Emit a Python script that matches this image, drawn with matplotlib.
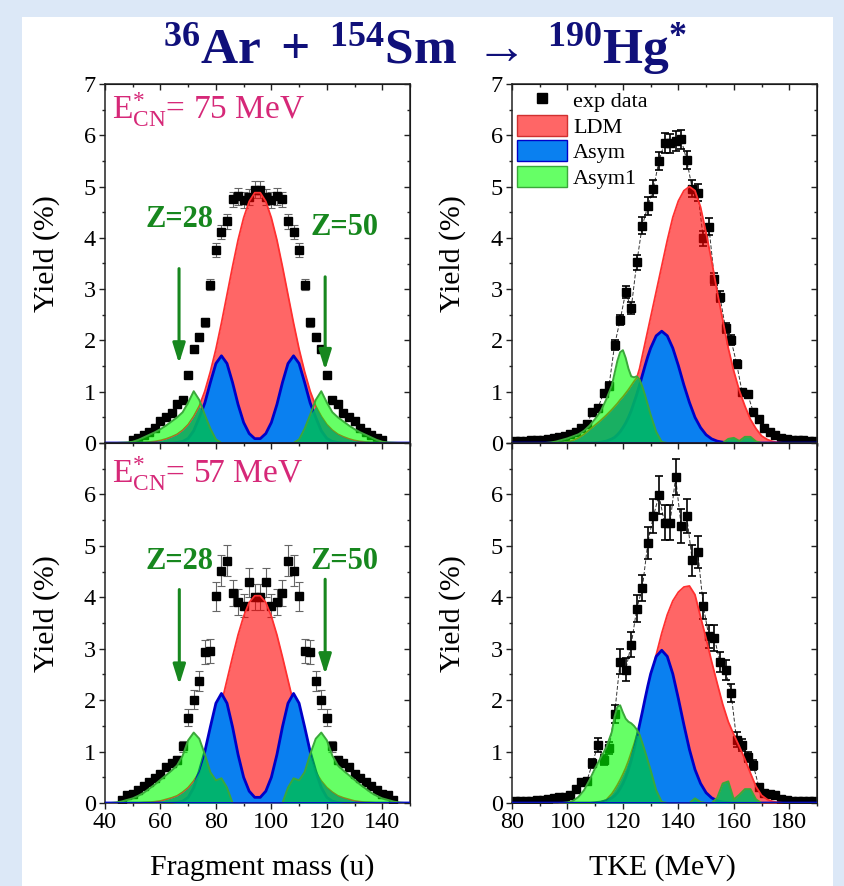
import numpy as np
import matplotlib
matplotlib.use('Agg')
import matplotlib.pyplot as plt
from matplotlib.patches import Patch, Rectangle
from matplotlib.lines import Line2D

plt.rcParams['font.family'] = ['Liberation Serif', 'DejaVu Serif']
plt.rcParams['mathtext.fontset'] = 'custom'
plt.rcParams['mathtext.rm'] = 'Liberation Serif'
plt.rcParams['mathtext.bf'] = 'Liberation Serif:bold'
plt.rcParams['mathtext.it'] = 'Liberation Serif:italic'

# ---- model curves, fragment mass (sample positions every 2 u) ----
mass = np.arange(40, 152, 2)

ldm_75 = [0, 0, 0, 0, 0, 0, 0, 0.01, 0.02, 0.03, 0.05, 0.08, 0.12, 0.17, 0.25, 0.36, 0.52, 0.72, 1.01, 1.39,
          1.83, 2.34, 2.89, 3.44, 3.96, 4.39, 4.71, 4.88,
          4.88, 4.71, 4.39, 3.96, 3.44, 2.89, 2.34, 1.83, 1.39, 1.01, 0.72, 0.52, 0.36, 0.25, 0.17, 0.12,
          0.08, 0.05, 0.03, 0.02, 0.01, 0, 0, 0, 0, 0, 0, 0]
asym_75 = [0, 0, 0, 0, 0, 0, 0, 0, 0, 0, 0, 0, 0, 0.01, 0.03, 0.09, 0.24, 0.5, 0.78, 1.18, 1.55, 1.7, 1.55,
           1.18, 0.75, 0.4, 0.185, 0.085,
           0.085, 0.185, 0.4, 0.75, 1.18, 1.55, 1.7, 1.55, 1.18, 0.78, 0.5, 0.24, 0.09, 0.03, 0.01,
           0, 0, 0, 0, 0, 0, 0, 0, 0, 0, 0, 0, 0]
asym1_75 = [0, 0, 0, 0.005, 0.01, 0.025, 0.06, 0.11, 0.16, 0.21, 0.27, 0.34, 0.42, 0.5, 0.6, 0.79, 1.01, 0.84,
            0.55, 0.28, 0.07, 0, 0, 0, 0, 0, 0, 0,
            0, 0, 0, 0, 0, 0, 0, 0.07, 0.28, 0.55, 0.84, 1.01, 0.79, 0.6, 0.5, 0.42, 0.34, 0.27, 0.21, 0.16,
            0.11, 0.06, 0.025, 0.01, 0.005, 0, 0, 0]

ldm_57 = [0, 0, 0, 0, 0, 0, 0, 0.01, 0.015, 0.025, 0.04, 0.07, 0.1, 0.14, 0.21, 0.3, 0.43, 0.6, 0.84, 1.15,
          1.51, 1.94, 2.39, 2.84, 3.27, 3.63, 3.9, 4.03,
          4.03, 3.9, 3.63, 3.27, 2.84, 2.39, 1.94, 1.51, 1.15, 0.84, 0.6, 0.43, 0.3, 0.21, 0.14, 0.1,
          0.07, 0.04, 0.025, 0.015, 0.01, 0, 0, 0, 0, 0, 0, 0]
asym_57 = [0, 0, 0, 0, 0, 0, 0, 0, 0, 0, 0, 0, 0, 0.01, 0.035, 0.11, 0.3, 0.62, 1.0, 1.48, 1.94, 2.13, 1.94,
           1.48, 0.94, 0.5, 0.23, 0.11,
           0.11, 0.23, 0.5, 0.94, 1.48, 1.94, 2.13, 1.94, 1.48, 1.0, 0.62, 0.3, 0.11, 0.035, 0.01,
           0, 0, 0, 0, 0, 0, 0, 0, 0, 0, 0, 0, 0]
asym1_57 = [0, 0, 0.01, 0.03, 0.06, 0.09, 0.14, 0.2, 0.28, 0.36, 0.45, 0.54, 0.63, 0.73, 0.92, 1.22, 1.37, 1.25,
            0.95, 0.6, 0.44, 0.48, 0.3, 0, 0, 0, 0, 0,
            0, 0, 0, 0, 0, 0.3, 0.48, 0.44, 0.6, 0.95, 1.25, 1.37, 1.22, 0.92, 0.73, 0.63, 0.54, 0.45, 0.36,
            0.28, 0.2, 0.14, 0.09, 0.06, 0.03, 0.01, 0, 0]

# ---- experimental mass yields ----
mass_exp_75 = np.arange(50, 142, 2)
yield_m75 = [0.06, 0.09, 0.15, 0.22, 0.3, 0.43, 0.5, 0.58, 0.77, 0.84, 1.32, 1.83, 2.07, 2.35, 3.09, 3.76,
             4.12, 4.32, 4.75, 4.81, 4.74, 4.8, 4.94,
             4.94, 4.8, 4.74, 4.81, 4.75, 4.32, 4.12, 3.76, 3.09, 2.35, 2.07, 1.83, 1.32, 0.84, 0.77, 0.58,
             0.5, 0.43, 0.3, 0.22, 0.15, 0.09, 0.06]
err_m75 = [0.02, 0.02, 0.03, 0.03, 0.03, 0.03, 0.04, 0.04, 0.04, 0.05, 0.06, 0.07, 0.08, 0.09, 0.11, 0.13,
           0.14, 0.15, 0.15, 0.16, 0.16, 0.16, 0.16,
           0.16, 0.16, 0.16, 0.16, 0.15, 0.15, 0.14, 0.13, 0.11, 0.09, 0.08, 0.07, 0.06, 0.05, 0.04, 0.04,
           0.04, 0.03, 0.03, 0.03, 0.03, 0.02, 0.02]

mass_exp_57 = np.arange(46, 146, 2)
yield_m57 = [0.06, 0.15, 0.18, 0.26, 0.33, 0.4, 0.48, 0.57, 0.7, 0.77, 0.84, 1.1, 1.66, 2.01, 2.37, 2.93,
             2.95, 4.02, 4.52, 4.71, 4.08, 3.91, 3.84, 4.29, 4.0,
             4.0, 4.29, 3.84, 3.91, 4.08, 4.71, 4.52, 4.02, 2.95, 2.93, 2.37, 2.01, 1.66, 1.1, 0.84, 0.77,
             0.7, 0.57, 0.48, 0.4, 0.33, 0.26, 0.18, 0.15, 0.06]
err_m57 = [0.03, 0.03, 0.04, 0.04, 0.05, 0.05, 0.05, 0.06, 0.07, 0.07, 0.08, 0.1, 0.16, 0.19, 0.2, 0.23,
           0.23, 0.28, 0.3, 0.3, 0.25, 0.25, 0.22, 0.28, 0.25,
           0.25, 0.28, 0.22, 0.25, 0.25, 0.3, 0.3, 0.28, 0.23, 0.23, 0.2, 0.19, 0.16, 0.1, 0.08, 0.07,
           0.07, 0.06, 0.05, 0.05, 0.05, 0.04, 0.04, 0.03, 0.03]

# ---- model curves, TKE (finer sampling 116-129 MeV) ----
tke = np.concatenate([np.arange(80, 116, 2), np.arange(116, 130), np.arange(130, 192, 2)])

ldm_t75 = [0, 0, 0, 0, 0, 0, 0, 0, 0, 0.01, 0.02, 0.05, 0.1, 0.17, 0.26, 0.35, 0.44, 0.54,
           0.65, 0.71, 0.77, 0.84, 0.9, 0.97, 1.04, 1.12, 1.2, 1.27, 1.45, 1.7, 1.95, 2.2,
           2.45, 2.95, 3.45, 3.95, 4.4, 4.72, 4.92, 5.0, 4.92, 4.6, 4.1, 3.55, 2.95, 2.4, 1.85, 1.4,
           1.02, 0.72, 0.46, 0.28, 0.14, 0.07, 0.03, 0.01, 0, 0, 0, 0, 0, 0, 0]
asym_t75 = [0, 0, 0, 0, 0, 0, 0, 0, 0, 0, 0, 0, 0, 0, 0, 0.006, 0.016, 0.037,
            0.08, 0.11, 0.16, 0.22, 0.3, 0.39, 0.5, 0.63, 0.79, 0.95, 1.13, 1.32, 1.51, 1.69,
            1.85, 2.09, 2.18, 2.09, 1.85, 1.51, 1.13, 0.79, 0.5, 0.3, 0.16, 0.08, 0.037, 0.016, 0.006,
            0, 0, 0, 0, 0, 0, 0, 0, 0, 0, 0, 0, 0, 0, 0, 0]
asym1_t75 = [0, 0, 0, 0, 0, 0, 0, 0.01, 0.03, 0.06, 0.09, 0.13, 0.17, 0.24, 0.34, 0.47, 0.62, 0.85,
             1.12, 1.36, 1.6, 1.77, 1.81, 1.66, 1.45, 1.3, 1.28, 1.3, 1.24, 1.1, 0.93, 0.74,
             0.55, 0.22, 0.02, 0, 0, 0, 0, 0, 0, 0, 0, 0, 0, 0, 0.08, 0.1, 0.04, 0.12, 0.12, 0.03,
             0, 0, 0, 0, 0, 0, 0, 0, 0, 0, 0]

ldm_t57 = [0, 0, 0, 0, 0, 0, 0, 0, 0, 0, 0, 0, 0, 0, 0, 0.005, 0.02, 0.06,
           0.18, 0.26, 0.35, 0.45, 0.56, 0.68, 0.82, 0.98, 1.14, 1.32, 1.5, 1.7, 1.92, 2.15,
           2.4, 2.88, 3.3, 3.66, 3.93, 4.1, 4.2, 4.22, 4.05, 3.62, 3.2, 2.75, 2.33, 1.92, 1.58, 1.33,
           1.1, 0.85, 0.58, 0.32, 0.15, 0.07, 0.03, 0.01, 0, 0, 0, 0, 0, 0, 0]
asym_t57 = [0, 0, 0, 0, 0, 0, 0, 0, 0, 0, 0, 0, 0, 0, 0, 0.007, 0.018, 0.045,
            0.1, 0.14, 0.2, 0.28, 0.38, 0.5, 0.65, 0.83, 1.04, 1.27, 1.52, 1.77, 2.03, 2.28,
            2.51, 2.85, 2.97, 2.85, 2.51, 2.03, 1.52, 1.04, 0.65, 0.38, 0.2, 0.1, 0.045, 0.018, 0.007,
            0, 0, 0, 0, 0, 0, 0, 0, 0, 0, 0, 0, 0, 0, 0, 0]
asym1_t57 = [0, 0, 0, 0, 0, 0, 0, 0, 0, 0, 0.01, 0.04, 0.12, 0.25, 0.45, 0.68, 0.88, 1.08,
             1.38, 1.68, 1.87, 1.9, 1.76, 1.64, 1.58, 1.55, 1.5, 1.43, 1.33, 1.17, 1.0, 0.82,
             0.64, 0.25, 0.02, 0, 0, 0, 0, 0, 0.09, 0.02, 0, 0, 0.1, 0.38, 0.42, 0.07, 0.16, 0.27, 0.27,
             0.07, 0, 0, 0, 0, 0, 0, 0, 0, 0, 0, 0]

# ---- experimental TKE yields ----
tke_exp = np.arange(81, 190, 2)
yield_t75 = [0.04, 0.04, 0.04, 0.05, 0.05, 0.06, 0.08, 0.09, 0.12, 0.14,
             0.17, 0.22, 0.3, 0.38, 0.6, 0.68, 0.97, 1.12, 1.91, 2.4,
             2.94, 2.63, 3.52, 4.24, 4.62, 4.96, 5.5, 5.85, 5.84, 5.89,
             5.92, 5.52, 4.96, 4.88, 3.99, 4.22, 3.2, 2.85, 2.24, 2.01,
             1.55, 0.99, 0.95, 0.61, 0.46, 0.29, 0.22, 0.16, 0.1, 0.07,
             0.06, 0.05, 0.05, 0.04, 0.04]
err_t75 = [0.03, 0.03, 0.03, 0.03, 0.03, 0.03, 0.03, 0.03, 0.03, 0.03,
           0.03, 0.04, 0.04, 0.04, 0.05, 0.05, 0.06, 0.07, 0.09, 0.1,
           0.12, 0.11, 0.14, 0.16, 0.17, 0.17, 0.18, 0.19, 0.19, 0.19,
           0.19, 0.18, 0.17, 0.17, 0.15, 0.16, 0.12, 0.11, 0.1, 0.09,
           0.07, 0.06, 0.06, 0.05, 0.04, 0.04, 0.03, 0.03, 0.03, 0.03,
           0.03, 0.03, 0.03, 0.03, 0.03]
yield_t57 = [0.04, 0.04, 0.04, 0.04, 0.05, 0.05, 0.07, 0.09, 0.11, 0.12,
             0.16, 0.27, 0.41, 0.43, 0.77, 1.13, 0.84, 1.07, 1.73, 2.75,
             2.59, 3.08, 3.78, 4.18, 5.06, 5.58, 5.98, 5.45, 5.45, 6.33,
             5.39, 5.58, 4.72, 4.88, 3.83, 3.24, 3.21, 2.74, 2.59, 2.14,
             1.23, 1.13, 0.9, 0.74, 0.32, 0.2, 0.17, 0.15, 0.07, 0.05,
             0.04, 0.04, 0.04, 0.04, 0.04]
err_t57 = [0.03, 0.03, 0.03, 0.03, 0.03, 0.03, 0.03, 0.03, 0.03, 0.03,
           0.04, 0.05, 0.06, 0.06, 0.08, 0.14, 0.1, 0.12, 0.18, 0.24,
           0.22, 0.25, 0.27, 0.25, 0.31, 0.33, 0.37, 0.34, 0.34, 0.35,
           0.33, 0.33, 0.3, 0.31, 0.25, 0.22, 0.25, 0.2, 0.2, 0.18,
           0.15, 0.12, 0.1, 0.09, 0.05, 0.04, 0.04, 0.03, 0.03, 0.03,
           0.03, 0.03, 0.03, 0.03, 0.03]

# colours
RED = '#ff0000'
BLUE = '#0a80f0'
BLUE_EDGE = '#0000c8'
GREEN_EDGE = '#3aa83a'
DARK_GREEN = '#00b862'
ZGREEN = '#17871e'
MAGENTA = '#d62878'
NAVY = '#10107a'

W, H = 844, 886
fig = plt.figure(figsize=(W / 100, H / 100), dpi=100)
fig.patch.set_facecolor('#dce8f7')
fig.add_artist(Rectangle((22 / W, 0), 811 / W, 869 / H, transform=fig.transFigure,
                         facecolor='white', edgecolor='none', zorder=-10))


def px_axes(x0, y0, x1, y1):
    return fig.add_axes([x0 / W, 1 - y1 / H, (x1 - x0) / W, (y1 - y0) / H])


def draw_panel(ax, x, red, blue, green, xe, ye, err, ecol, elw, connect):
    red, blue, green = np.asarray(red), np.asarray(blue), np.asarray(green)
    under = np.maximum(red, blue)
    if connect:
        ax.plot(xe, ye, color='#333333', lw=0.7, ls=(0, (4, 2)), zorder=2)
    ax.errorbar(xe, ye, yerr=err, fmt='none', ecolor=ecol, elinewidth=elw,
                capsize=3, capthick=elw, zorder=2)
    ax.plot(xe, ye, 's', color='k', ms=6.3, zorder=2.5)
    ax.fill_between(x, 0, red, color=RED, alpha=0.6, lw=0, zorder=3)
    ax.plot(x, red, color='#ff3030', lw=1.3, zorder=3.1)
    ax.fill_between(x, 0, blue, color=BLUE, lw=0, zorder=4)
    ax.plot(x, blue, color=BLUE_EDGE, lw=2.0, zorder=4.2)
    ax.fill_between(x, 0, np.minimum(green, under), color=DARK_GREEN, alpha=0.9, lw=0, zorder=5)
    ax.fill_between(x, under, green, where=green > under, interpolate=True,
                    color='#00ff00', alpha=0.6, lw=0, zorder=5)
    ax.plot(x, green, color=GREEN_EDGE, lw=1.4, zorder=5.5)
    ax.axhline(0, color=BLUE_EDGE, lw=2.0, zorder=6)


def setup(ax, xlim, xmaj, xmin, xlabels, ylabels):
    ax.set_xlim(*xlim)
    ax.set_ylim(0, 7)
    ax.set_xticks(xmaj)
    ax.set_xticks(xmin, minor=True)
    ax.set_yticks(range(8))
    ax.set_yticks(np.arange(0.5, 7, 1), minor=True)
    ax.set_yticklabels(ylabels)
    ax.tick_params(which='both', direction='out', labelsize=17.5, pad=2, width=1, color='#222222',
                   labelbottom=xlabels)
    ax.tick_params(which='major', length=4.5)
    ax.tick_params(which='minor', length=2.5)
    for s in ax.spines.values():
        s.set_linewidth(1.1)
        s.set_color('#222222')
    top = ax.secondary_xaxis('top')
    top.set_xticks(xmaj)
    top.set_xticks(xmin, minor=True)
    top.tick_params(which='both', direction='in', labeltop=False, width=1, color='#222222')
    top.tick_params(which='major', length=4.5)
    top.tick_params(which='minor', length=2.5)
    right = ax.secondary_yaxis('right')
    right.set_yticks(range(8))
    right.set_yticks(np.arange(0.5, 7, 1), minor=True)
    right.tick_params(which='both', direction='in', labelright=False, width=1, color='#222222')
    right.tick_params(which='major', length=4.5)
    right.tick_params(which='minor', length=2.5)


ax_tl = px_axes(105, 84, 410, 443)
ax_tr = px_axes(512, 84, 817, 443)
ax_bl = px_axes(105, 443, 410, 803)
ax_br = px_axes(512, 443, 817, 803)

draw_panel(ax_tl, mass, ldm_75, asym_75, asym1_75, mass_exp_75, yield_m75, err_m75, '#666666', 0.8, False)
draw_panel(ax_bl, mass, ldm_57, asym_57, asym1_57, mass_exp_57, yield_m57, err_m57, '#666666', 0.8, False)
draw_panel(ax_tr, tke, ldm_t75, asym_t75, asym1_t75, tke_exp, yield_t75, err_t75, 'k', 1.2, True)
draw_panel(ax_br, tke, ldm_t57, asym_t57, asym1_t57, tke_exp, yield_t57, err_t57, 'k', 1.2, True)

top_labels = [str(v) for v in range(8)]
bot_labels = [str(v) for v in range(7)] + ['']
setup(ax_tl, (40, 150), range(40, 160, 20), range(50, 160, 20), False, top_labels)
setup(ax_bl, (40, 150), range(40, 160, 20), range(50, 160, 20), True, bot_labels)
setup(ax_tr, (80, 190), range(80, 200, 20), range(90, 200, 20), False, top_labels)
setup(ax_br, (80, 190), range(80, 200, 20), range(90, 200, 20), True, bot_labels)

# energy labels
ax_tl.text(0.023, 0.902, r'$\mathrm{E}^{*}_{\mathrm{CN}}$= 75 MeV', transform=ax_tl.transAxes,
           ha='left', va='baseline', fontsize=24, color=MAGENTA, zorder=10)
ax_bl.text(0.023, 0.889, r'$\mathrm{E}^{*}_{\mathrm{CN}}$= 57 MeV', transform=ax_bl.transAxes,
           ha='left', va='baseline', fontsize=24, color=MAGENTA, zorder=10)

# shell closures
arrow = dict(arrowstyle='-|>,head_length=0.8,head_width=0.25', color=ZGREEN, lw=2.2,
             mutation_scale=15, shrinkA=0, shrinkB=0)
ax_tl.text(66.7, 4.35, 'Z=28', ha='center', va='center', fontsize=22, fontweight='bold', color=ZGREEN)
ax_tl.text(126.5, 4.2, 'Z=50', ha='center', va='center', fontsize=22, fontweight='bold', color=ZGREEN)
ax_tl.annotate('', xy=(66.7, 1.55), xytext=(66.7, 3.4), arrowprops=arrow, zorder=10)
ax_tl.annotate('', xy=(119.4, 1.42), xytext=(119.4, 3.24), arrowprops=arrow, zorder=10)
ax_bl.text(67.0, 4.7, 'Z=28', ha='center', va='center', fontsize=22, fontweight='bold', color=ZGREEN)
ax_bl.text(126.5, 4.7, 'Z=50', ha='center', va='center', fontsize=22, fontweight='bold', color=ZGREEN)
ax_bl.annotate('', xy=(66.8, 2.3), xytext=(66.8, 4.15), arrowprops=arrow, zorder=10)
ax_bl.annotate('', xy=(119.4, 2.5), xytext=(119.4, 4.35), arrowprops=arrow, zorder=10)

# legend
handles = [Line2D([], [], marker='s', ls='none', color='k', ms=7),
           Patch(facecolor='#ff6666', edgecolor='#d03030'),
           Patch(facecolor=BLUE, edgecolor=BLUE_EDGE),
           Patch(facecolor='#66ff66', edgecolor=GREEN_EDGE)]
ax_tr.legend(handles, ['exp data', 'LDM', 'Asym', 'Asym1'], loc='upper left', frameon=False,
             fontsize=16, handlelength=2.25, handleheight=1.08, labelspacing=0.12,
             handletextpad=0.27, borderaxespad=0, borderpad=0.22)

# titles and axis labels
fig.text(425 / W, 1 - 63 / H, r'$\mathbf{{}^{36}Ar\ +\ {}^{154}Sm\ \rightarrow\ {}^{190}Hg^{*}}$',
         ha='center', va='baseline', fontsize=37, color=NAVY)
for yc in (254, 614):
    fig.text(47 / W, 1 - yc / H, 'Yield (%)', rotation=90, ha='center', va='center', fontsize=21.5)
    fig.text(453 / W, 1 - yc / H, 'Yield (%)', rotation=90, ha='center', va='center', fontsize=21.5)
fig.text(262 / W, 1 - 868 / H, 'Fragment mass (u)', ha='center', va='center', fontsize=21.5)
fig.text(662 / W, 1 - 868 / H, 'TKE (MeV)', ha='center', va='center', fontsize=21.5)

fig.savefig('out.png', dpi=100, facecolor=fig.get_facecolor())
